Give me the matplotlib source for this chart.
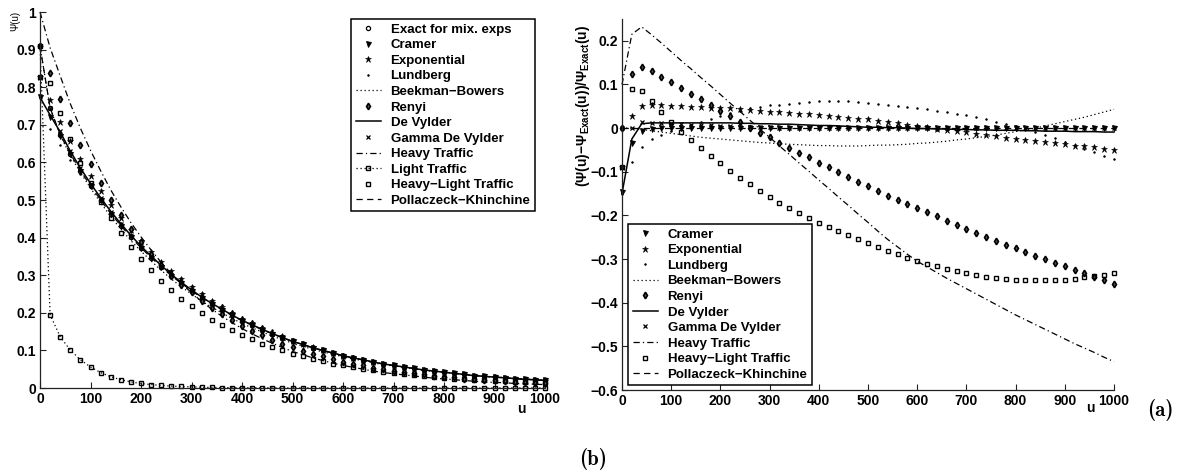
import matplotlib
matplotlib.use('Agg')
import matplotlib.pyplot as plt

plt.rcParams['font.family'] = ['Liberation Sans', 'DejaVu Sans']
plt.rcParams['font.weight'] = 'bold'
plt.rcParams['mathtext.fontset'] = 'custom'
plt.rcParams['mathtext.rm'] = 'Liberation Sans:bold'
plt.rcParams['mathtext.bf'] = 'Liberation Sans:bold'
plt.rcParams['mathtext.it'] = 'Liberation Sans:bold'

# ---------------- data ----------------
u = list(range(0, 1001, 20))

# (b) ruin probability Psi(u)
exact = [0.909, 0.745, 0.674, 0.623, 0.578, 0.538, 0.500, 0.464, 0.432, 0.401, 0.373, 0.347, 0.322, 0.299,
         0.278, 0.259, 0.240, 0.223, 0.208, 0.193, 0.179, 0.167, 0.155, 0.144, 0.134, 0.124, 0.116, 0.107,
         0.100, 0.093, 0.086, 0.080, 0.075, 0.069, 0.064, 0.060, 0.056, 0.052, 0.048, 0.045, 0.042, 0.039,
         0.036, 0.033, 0.031, 0.029, 0.027, 0.025, 0.023, 0.022, 0.020]
cramer = [0.775, 0.720, 0.670, 0.622, 0.578, 0.538, 0.500, 0.464, 0.432, 0.401, 0.373, 0.347, 0.322, 0.299,
          0.278, 0.259, 0.240, 0.223, 0.208, 0.193, 0.179, 0.167, 0.155, 0.144, 0.134, 0.124, 0.116, 0.107,
          0.100, 0.093, 0.086, 0.080, 0.075, 0.069, 0.064, 0.060, 0.056, 0.052, 0.048, 0.045, 0.042, 0.039,
          0.036, 0.033, 0.031, 0.029, 0.027, 0.025, 0.023, 0.022, 0.020]
exponential = [0.827, 0.765, 0.708, 0.657, 0.609, 0.565, 0.525, 0.487, 0.453, 0.420, 0.390, 0.363, 0.336, 0.312,
               0.289, 0.269, 0.249, 0.231, 0.215, 0.199, 0.184, 0.172, 0.159, 0.147, 0.137, 0.126, 0.118, 0.109,
               0.101, 0.094, 0.086, 0.080, 0.075, 0.069, 0.064, 0.059, 0.055, 0.051, 0.047, 0.044, 0.041, 0.038,
               0.035, 0.032, 0.030, 0.028, 0.026, 0.024, 0.022, 0.021, 0.019]
lundberg = [0.773, 0.688, 0.645, 0.607, 0.569, 0.534, 0.500, 0.467, 0.438, 0.409, 0.383, 0.359, 0.335, 0.312,
            0.292, 0.272, 0.253, 0.235, 0.220, 0.205, 0.190, 0.177, 0.165, 0.153, 0.142, 0.131, 0.122, 0.113,
            0.105, 0.097, 0.090, 0.084, 0.078, 0.072, 0.066, 0.062, 0.057, 0.053, 0.049, 0.045, 0.042, 0.039,
            0.036, 0.032, 0.030, 0.028, 0.026, 0.024, 0.022, 0.021, 0.019]
beekman = [0.909, 0.745, 0.672, 0.619, 0.573, 0.532, 0.493, 0.456, 0.423, 0.392, 0.364, 0.338, 0.313, 0.290,
           0.269, 0.250, 0.231, 0.215, 0.200, 0.185, 0.172, 0.160, 0.149, 0.138, 0.129, 0.119, 0.111, 0.103,
           0.096, 0.090, 0.083, 0.077, 0.073, 0.067, 0.062, 0.059, 0.055, 0.051, 0.047, 0.044, 0.042, 0.039,
           0.036, 0.033, 0.031, 0.029, 0.028, 0.026, 0.024, 0.023, 0.021]
renyi = [0.909, 0.838, 0.768, 0.705, 0.646, 0.595, 0.546, 0.501, 0.461, 0.423, 0.388, 0.356, 0.327, 0.299,
         0.275, 0.254, 0.232, 0.213, 0.196, 0.180, 0.165, 0.152, 0.140, 0.128, 0.118, 0.108, 0.099, 0.090,
         0.084, 0.077, 0.070, 0.065, 0.060, 0.054, 0.050, 0.046, 0.043, 0.039, 0.036, 0.033, 0.030, 0.028,
         0.025, 0.023, 0.021, 0.020, 0.018, 0.017, 0.015, 0.014, 0.013]
devylder = [0.773, 0.726, 0.681, 0.630, 0.585, 0.544, 0.506, 0.470, 0.437, 0.406, 0.377, 0.351, 0.326, 0.302,
            0.281, 0.261, 0.242, 0.225, 0.210, 0.194, 0.180, 0.168, 0.156, 0.145, 0.134, 0.124, 0.116, 0.107,
            0.100, 0.093, 0.086, 0.080, 0.075, 0.069, 0.064, 0.060, 0.056, 0.052, 0.048, 0.045, 0.042, 0.039,
            0.036, 0.033, 0.031, 0.029, 0.027, 0.025, 0.023, 0.022, 0.020]
gamma_dv = [0.909, 0.745, 0.683, 0.630, 0.584, 0.543, 0.505, 0.468, 0.435, 0.403, 0.375, 0.348, 0.323, 0.300,
            0.278, 0.259, 0.240, 0.223, 0.208, 0.193, 0.179, 0.167, 0.155, 0.144, 0.134, 0.124, 0.116, 0.107,
            0.100, 0.093, 0.086, 0.080, 0.075, 0.069, 0.064, 0.060, 0.056, 0.052, 0.048, 0.045, 0.042, 0.039,
            0.036, 0.033, 0.031, 0.029, 0.027, 0.025, 0.023, 0.022, 0.020]
heavy = [1.000, 0.905, 0.830, 0.756, 0.691, 0.632, 0.578, 0.527, 0.482, 0.440, 0.402, 0.367, 0.334, 0.304,
         0.277, 0.254, 0.230, 0.210, 0.191, 0.174, 0.158, 0.144, 0.131, 0.119, 0.108, 0.097, 0.089, 0.080,
         0.073, 0.066, 0.060, 0.055, 0.050, 0.045, 0.041, 0.038, 0.035, 0.032, 0.029, 0.026, 0.024, 0.022,
         0.020, 0.018, 0.016, 0.015, 0.014, 0.012, 0.011, 0.010, 0.009]
light = [0.909, 0.195, 0.136, 0.101, 0.075, 0.056, 0.041, 0.030, 0.022, 0.016, 0.012, 0.009, 0.007, 0.005,
         0.004, 0.003, 0.002, 0.0015, 0.001, 0.001, 0.0008, 0.0006, 0.0005, 0.0004, 0.0003, 0.0002, 0.0002,
         0.0001, 0.0001, 0.0001, 0.0001, 0, 0, 0, 0, 0, 0, 0, 0, 0, 0, 0, 0, 0, 0, 0, 0, 0, 0, 0, 0]
heavy_light = [0.827, 0.811, 0.731, 0.662, 0.599, 0.545, 0.496, 0.451, 0.413, 0.376, 0.343, 0.313, 0.285, 0.261,
               0.238, 0.218, 0.199, 0.182, 0.167, 0.153, 0.140, 0.129, 0.118, 0.109, 0.100, 0.091, 0.084, 0.077,
               0.071, 0.065, 0.060, 0.055, 0.051, 0.047, 0.043, 0.040, 0.037, 0.034, 0.032, 0.029, 0.027, 0.025,
               0.023, 0.021, 0.020, 0.019, 0.018, 0.016, 0.015, 0.015, 0.013]
pollaczek = list(exact)

# (a) relative errors (Psi(u) - Psi_exact(u)) / Psi_exact(u)
e_cramer = [-0.147, -0.034, -0.007, -0.0015] + [0.0] * 47
e_exponential = [-0.09, 0.027, 0.050, 0.054, 0.053, 0.051, 0.050, 0.049, 0.048, 0.047, 0.046, 0.045, 0.044, 0.042,
                 0.040, 0.038, 0.037, 0.035, 0.033, 0.032, 0.030, 0.028, 0.026, 0.024, 0.022, 0.020, 0.017, 0.014,
                 0.011, 0.008, 0.005, 0.002, -0.001, -0.004, -0.007, -0.010, -0.013, -0.016, -0.019, -0.022,
                 -0.025, -0.027, -0.030, -0.032, -0.035, -0.037, -0.040, -0.042, -0.044, -0.047, -0.049]
e_lundberg = [-0.15, -0.077, -0.043, -0.026, -0.015, -0.007, 0.000, 0.007, 0.014, 0.021, 0.028, 0.034, 0.040,
              0.045, 0.049, 0.052, 0.054, 0.056, 0.058, 0.060, 0.061, 0.062, 0.062, 0.061, 0.060, 0.058, 0.055,
              0.052, 0.050, 0.048, 0.046, 0.044, 0.040, 0.037, 0.033, 0.029, 0.025, 0.020, 0.015, 0.010, 0.004,
              -0.002, -0.009, -0.016, -0.023, -0.031, -0.039, -0.047, -0.055, -0.063, -0.071]
e_beekman = [0.0, 0.0, -0.003, -0.006, -0.009, -0.012, -0.015, -0.018, -0.021, -0.023, -0.025, -0.027, -0.029,
             -0.031, -0.033, -0.034, -0.036, -0.037, -0.038, -0.039, -0.040, -0.040, -0.041, -0.041, -0.041,
             -0.040, -0.039, -0.039, -0.038, -0.037, -0.035, -0.034, -0.032, -0.030, -0.027, -0.025, -0.022,
             -0.019, -0.016, -0.012, -0.008, -0.004, 0.000, 0.005, 0.010, 0.015, 0.020, 0.025, 0.031, 0.037, 0.043]
e_renyi = [0.0, 0.125, 0.14, 0.132, 0.118, 0.106, 0.092, 0.079, 0.066, 0.054, 0.040, 0.027, 0.014, 0.0, -0.011,
           -0.021, -0.034, -0.045, -0.057, -0.067, -0.079, -0.090, -0.100, -0.112, -0.123, -0.133, -0.144,
           -0.155, -0.165, -0.174, -0.184, -0.193, -0.202, -0.212, -0.221, -0.230, -0.240, -0.249, -0.258,
           -0.267, -0.275, -0.284, -0.292, -0.300, -0.308, -0.316, -0.325, -0.333, -0.340, -0.348, -0.356]
e_devylder = [-0.15, -0.025, 0.010, 0.012, 0.012, 0.012, 0.012, 0.012, 0.012, 0.012, 0.012, 0.012, 0.011, 0.011,
              0.010, 0.010, 0.009, 0.009, 0.008, 0.007, 0.006, 0.006, 0.005, 0.004, 0.003, 0.002, 0.002, 0.001,
              0.001, 0.0, -0.001, -0.001, -0.002, -0.002, -0.003, -0.003, -0.004, -0.004, -0.005, -0.005,
              -0.005, -0.006, -0.006, -0.007, -0.007, -0.007, -0.008, -0.008, -0.008, -0.009, -0.009]
e_gamma_dv = [0.0, 0.0, 0.013, 0.012, 0.011, 0.010, 0.009, 0.008, 0.007, 0.006, 0.005, 0.004, 0.003, 0.002,
              0.002, 0.002, 0.001, 0.001, 0.001, 0.001] + [0.0] * 31
e_heavy = [0.10, 0.215, 0.232, 0.214, 0.195, 0.175, 0.155, 0.136, 0.116, 0.097, 0.077, 0.057, 0.038, 0.018,
           -0.002, -0.021, -0.041, -0.060, -0.080, -0.099, -0.119, -0.138, -0.158, -0.177, -0.197, -0.216,
           -0.236, -0.255, -0.272, -0.289, -0.305, -0.318, -0.331, -0.344, -0.356, -0.368, -0.380, -0.392,
           -0.404, -0.416, -0.428, -0.439, -0.450, -0.461, -0.472, -0.483, -0.494, -0.504, -0.514, -0.525, -0.535]
e_heavy_light = [-0.09, 0.089, 0.085, 0.063, 0.037, 0.013, -0.008, -0.027, -0.045, -0.063, -0.080, -0.098, -0.115,
                 -0.128, -0.144, -0.158, -0.171, -0.183, -0.195, -0.207, -0.217, -0.226, -0.236, -0.245, -0.255,
                 -0.264, -0.273, -0.281, -0.289, -0.297, -0.304, -0.311, -0.317, -0.323, -0.328, -0.332, -0.336,
                 -0.340, -0.343, -0.345, -0.347, -0.348, -0.349, -0.349, -0.348, -0.347, -0.345, -0.342, -0.339,
                 -0.336, -0.333]
e_pollaczek = [0.0] * 51

# ---------------- styles ----------------
K = 'black'
sty = {
    'Exact for mix. exps': dict(ls='none', marker='o', ms=3.0, mfc='none', mew=0.9),
    'Cramer': dict(ls='none', marker='v', ms=3.6, mfc=K, mew=0.6),
    'Exponential': dict(ls='none', marker='*', ms=5.0, mfc=K, mew=0.4),
    'Lundberg': dict(ls='none', marker='.', ms=2.6, mfc=K, mew=0.4),
    'Beekman\u2212Bowers': dict(ls=(0, (1, 2.2)), lw=0.9, marker=None),
    'Renyi': dict(ls='none', marker='d', ms=3.3, mfc='#555555', mew=1.2),
    'De Vylder': dict(ls='-', lw=1.1, marker=None),
    'Gamma De Vylder': dict(ls='none', marker='x', ms=3.0, mew=0.9),
    'Heavy Traffic': dict(ls=(0, (5, 2.5, 1, 2.5)), lw=0.9, marker=None),
    'Light Traffic': dict(ls=(0, (1, 2.2)), lw=0.9, marker='s', ms=3.0, mfc='none', mew=1.0),
    'Heavy\u2212Light Traffic': dict(ls='none', marker='s', ms=3.0, mfc='none', mew=1.0),
    'Pollaczeck\u2212Khinchine': dict(ls=(0, (5, 3.5)), lw=0.9, marker=None),
}

left_series = [
    ('Exact for mix. exps', exact), ('Cramer', cramer), ('Exponential', exponential),
    ('Lundberg', lundberg), ('Beekman\u2212Bowers', beekman), ('Renyi', renyi),
    ('De Vylder', devylder), ('Gamma De Vylder', gamma_dv), ('Heavy Traffic', heavy),
    ('Light Traffic', light), ('Heavy\u2212Light Traffic', heavy_light),
    ('Pollaczeck\u2212Khinchine', pollaczek),
]
right_series = [
    ('Cramer', e_cramer), ('Exponential', e_exponential), ('Lundberg', e_lundberg),
    ('Beekman\u2212Bowers', e_beekman), ('Renyi', e_renyi), ('De Vylder', e_devylder),
    ('Gamma De Vylder', e_gamma_dv), ('Heavy Traffic', e_heavy),
    ('Heavy\u2212Light Traffic', e_heavy_light), ('Pollaczeck\u2212Khinchine', e_pollaczek),
]

W, H = 1188, 474
fig = plt.figure(figsize=(W / 100, H / 100), dpi=100)
axL = fig.add_axes([40 / W, (H - 388) / H, 505 / W, 376 / H])
axR = fig.add_axes([622 / W, (H - 390) / H, 492 / W, 371 / H])


def draw(ax, series):
    handles = []
    for name, vals in series:
        s = dict(sty[name])
        lw = s.pop('lw', 0.9)
        h, = ax.plot(u, vals, color=K, lw=lw, mec=K, clip_on=False, label=name, **s)
        handles.append(h)
    return handles


def style_axes(ax):
    for sp in ('top', 'right'):
        ax.spines[sp].set_visible(False)
    for sp in ('left', 'bottom'):
        ax.spines[sp].set_linewidth(0.9)
        ax.spines[sp].set_color('#222222')
    ax.tick_params(direction='in', length=4, width=0.8, labelsize=10, pad=3, colors='#222222',
                   labelcolor='black')
    ax.set_xlim(0, 1000)
    ax.set_xticks(range(0, 1001, 100))
    for lab in ax.get_xticklabels() + ax.get_yticklabels():
        lab.set_fontweight('bold')


hL = draw(axL, left_series)
axL.set_ylim(0, 1)
axL.set_yticks([i / 10 for i in range(11)])
axL.set_yticklabels(['0', '0.1', '0.2', '0.3', '0.4', '0.5', '0.6', '0.7', '0.8', '0.9', '1'])
style_axes(axL)

hR = draw(axR, right_series)
axR.set_ylim(-0.6, 0.25)
axR.set_yticks([-0.6, -0.5, -0.4, -0.3, -0.2, -0.1, 0, 0.1, 0.2])
axR.set_yticklabels(['\u22120.6', '\u22120.5', '\u22120.4', '\u22120.3', '\u22120.2', '\u22120.1', '0', '0.1', '0.2'])
style_axes(axR)

leg_kw = dict(prop={'size': 9.5, 'weight': 'bold'}, frameon=True, fancybox=False, framealpha=1,
              edgecolor='black', borderpad=0.35, labelspacing=0.25, handlelength=1.9,
              handletextpad=0.75, borderaxespad=0, numpoints=1, loc='upper left',
              bbox_transform=fig.transFigure)
legL = axL.legend(handles=hL, bbox_to_anchor=(351 / W, 1 - 19 / H), **leg_kw)
legL.get_frame().set_linewidth(1.1)
legR = axR.legend(handles=hR, bbox_to_anchor=(628 / W, 1 - 224 / H), **leg_kw)
legR.get_frame().set_linewidth(1.1)

# axis labels
fig.text(15 / W, 1 - 21 / H, '\u03a8(u)', rotation=90, ha='center', va='center', fontsize=7,
         fontweight='normal')
fig.text(521 / W, 1 - 409 / H, 'u', ha='center', va='center', fontsize=10, fontweight='bold')
fig.text(1090 / W, 1 - 408 / H, 'u', ha='center', va='center', fontsize=10, fontweight='bold')
fig.text(583 / W, 1 - 106 / H,
         '(\u03a8(u)\u2212\u03a8$_{\\mathbf{Exact}}$(u))/\u03a8$_{\\mathbf{Exact}}$(u)',
         rotation=90, ha='center', va='center', fontsize=10, fontweight='bold')

# panel labels
fig.text(1160 / W, 1 - 410 / H, '(a)', ha='center', va='center', fontsize=15, family='cmb10')
fig.text(593 / W, 1 - 459 / H, '(b)', ha='center', va='center', fontsize=15, family='cmb10')

fig.savefig('out.png', dpi=100)
